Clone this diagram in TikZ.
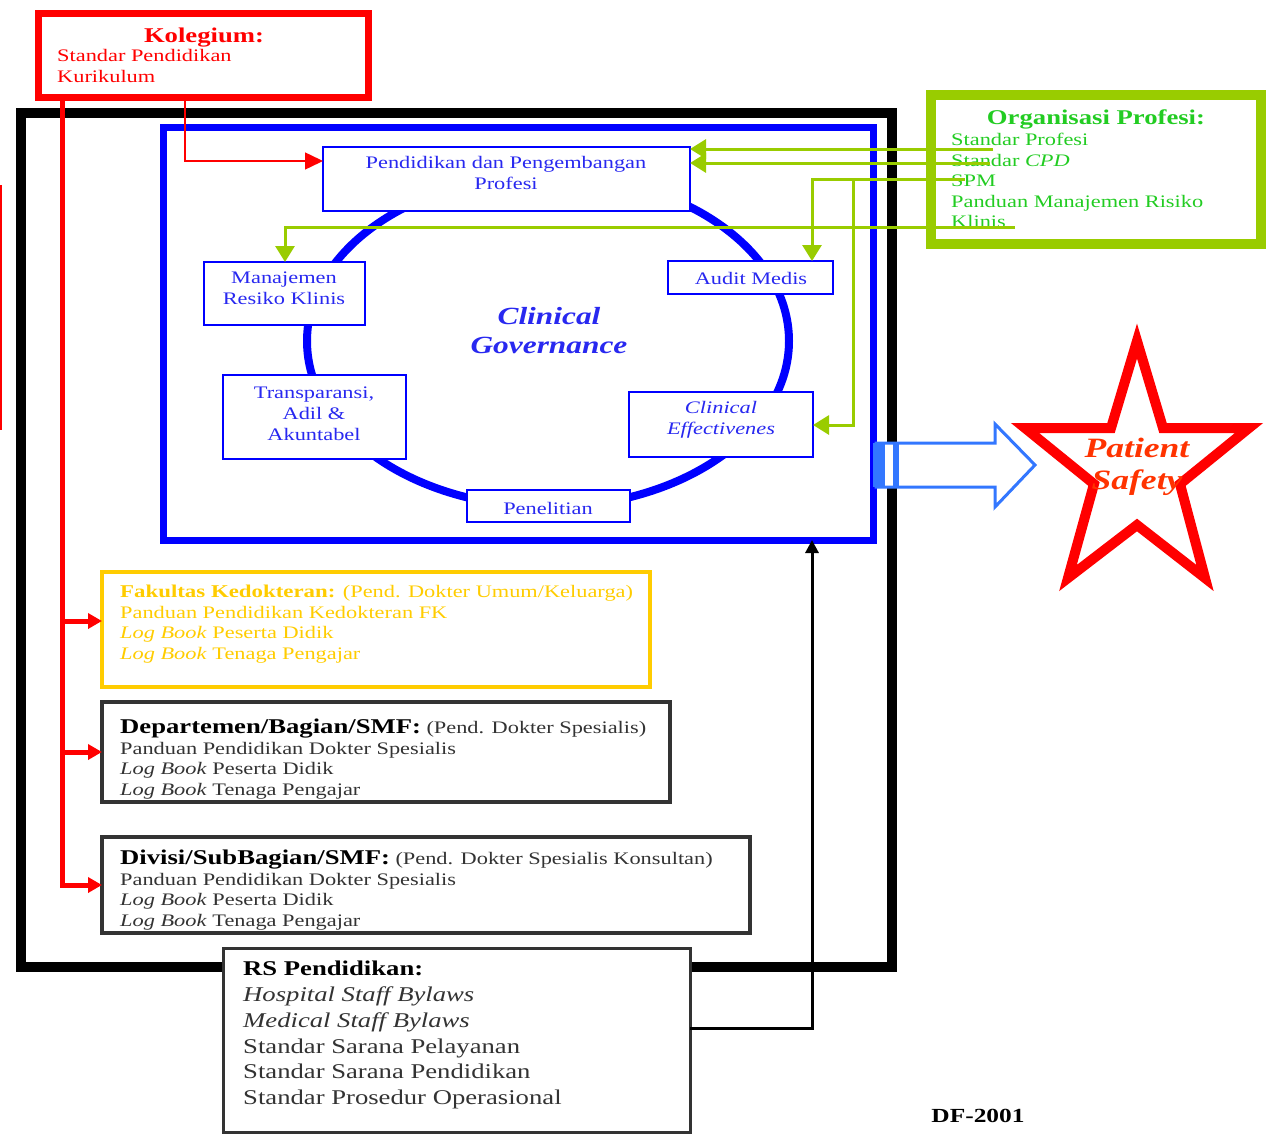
\documentclass[tikz,border=0pt]{standalone}
\usepackage{fontspec}
\setmainfont{Liberation Serif}[FakeStretch=1.27]
\usetikzlibrary{arrows.meta}
\newcommand{\pxfont}[2]{\fontsize{#1pt}{#2pt}\selectfont}

\definecolor{kred}{HTML}{FF0000}
\definecolor{cgblue}{HTML}{0000FF}
\definecolor{txtblue}{HTML}{2828F0}
\definecolor{lime}{HTML}{99CC00}
\definecolor{orgtext}{HTML}{22CC22}
\definecolor{gold}{HTML}{FFCC00}
\definecolor{arrowblue}{HTML}{3377FF}
\definecolor{psred}{HTML}{FF3300}
\definecolor{boxgray}{HTML}{333333}

\begin{document}
\begin{tikzpicture}[x=1pt,y=-1pt,
  rbox/.style 2 args={draw, minimum width=#1pt, minimum height=#2pt,
    anchor=north west, inner sep=0pt, outer sep=0pt},
  lbl/.style={inner sep=0pt, align=left, anchor=north west},
  ctr/.style={inner sep=0pt, align=center},
  body/.style={font=\pxfont{17.6}{21}},
  cgnode/.style={draw=cgblue, line width=2.5pt, fill=white},
  cgtext/.style={ctr, text=txtblue, font=\pxfont{17.6}{21}},
  redline/.style={draw=kred, line width=5pt},
  redtip/.style={-{Triangle[length=14pt,width=15pt]}},
  greenline/.style={draw=lime, line width=3pt},
  greentip/.style={-{Triangle[length=16pt,width=19pt]}},
  listbox/.style={draw=boxgray, fill=white}
]
\useasboundingbox (0,0) rectangle (1270,1135);

% outer frame of the teaching hospital system
\node[rbox={871}{854}, draw=black, line width=10pt] (frame) at (21,113) {};

% stray red edge on the far left
\draw[kred, line width=2pt] (1,185) -- (1,430);

% Kolegium
\node[rbox={330}{84}, draw=kred, line width=7pt] (kol) at (38,13) {};
\node[text=kred, font=\bfseries\pxfont{21}{25}, anchor=base, inner sep=0pt] (kolh) at (204,42) {Kolegium:};
\node[lbl, body, text=kred] (kolt) at (57,49) {Standar Pendidikan\\Kurikulum};

% Organisasi Profesi
\node[rbox={330}{149}, draw=lime, line width=10pt] (org) at (931,95) {};
\node[text=orgtext, font=\bfseries\pxfont{21}{25}, anchor=base, inner sep=0pt] (orgh) at (1096,124) {Organisasi Profesi:};
\node[lbl, font=\pxfont{17.6}{20.5}, text=orgtext] (orgt) at (951,133)
  {Standar Profesi\\Standar \textit{CPD}\\SPM\\Panduan Manajemen Risiko\\Klinis};

% Clinical governance block
\node[rbox={710}{413}, draw=cgblue, line width=7pt] (cg) at (163,127) {};
\draw[cgblue, line width=8pt] (548,341) ellipse [x radius=241pt, y radius=166pt];
\node[ctr, text=txtblue, font=\bfseries\itshape\pxfont{24.7}{29}] (cgt) at (549,331) {Clinical\\Governance};

\node[rbox={367}{64}, cgnode] (pend) at (323,147) {};
\node[cgtext] (pendt) at (506,173) {Pendidikan dan Pengembangan\\Profesi};
\node[rbox={161}{63}, cgnode] (mrk) at (204,262) {};
\node[cgtext] (mrkt) at (284,288) {Manajemen\\Resiko Klinis};
\node[rbox={165}{33}, cgnode] (audit) at (668,261) {};
\node[cgtext] (auditt) at (751,278) {Audit Medis};
\node[rbox={183}{84}, cgnode] (trans) at (223,375) {};
\node[cgtext] (transt) at (314,414) {Transparansi,\\Adil \&\\Akuntabel};
\node[rbox={184}{65}, cgnode] (ceff) at (629,392) {};
\node[cgtext, font=\itshape\pxfont{17.6}{21}] (cefft) at (721,420) {Clinical\\Effectivenes};
\node[rbox={163}{32}, cgnode] (pen) at (467,490) {};
\node[cgtext] (pent) at (548,508) {Penelitian};

% Fakultas Kedokteran
\node[rbox={548}{115}, draw=gold, line width=3.5pt] (fk) at (102,572) {};
\node[lbl, font=\pxfont{17.6}{20.5}, text=gold] (fkt) at (120,585)
  {{\bfseries\pxfont{18}{20.5}Fakultas Kedokteran:} (Pend. Dokter Umum/Keluarga)\\
   Panduan Pendidikan Kedokteran FK\\
   \textit{Log Book} Peserta Didik\\
   \textit{Log Book} Tenaga Pengajar};

% Departemen
\node[rbox={568}{100}, listbox, line width=4pt] (dep) at (102,702) {};
\node[lbl, font=\pxfont{17.6}{20.5}, text=boxgray] (dept) at (120,719)
  {{\color{black}\bfseries\pxfont{21}{20.5}Departemen/Bagian/SMF:} (Pend. Dokter Spesialis)\\
   Panduan Pendidikan Dokter Spesialis\\
   \textit{Log Book} Peserta Didik\\
   \textit{Log Book} Tenaga Pengajar};

% Divisi
\node[rbox={648}{96}, listbox, line width=3.5pt] (div) at (102,837) {};
\node[lbl, font=\pxfont{17.6}{20.5}, text=boxgray] (divt) at (120,850)
  {{\color{black}\bfseries\pxfont{21}{20.5}Divisi/SubBagian/SMF:} (Pend. Dokter Spesialis Konsultan)\\
   Panduan Pendidikan Dokter Spesialis\\
   \textit{Log Book} Peserta Didik\\
   \textit{Log Book} Tenaga Pengajar};

% Kolegium connectors
\coordinate (sp0) at (62,97);
\coordinate (sp1) at (62,621);
\coordinate (kp0) at (185,97);
\coordinate (kp) at (185,161);
\draw[redline, redtip] (sp0) |- (div.west);
\draw[redline, redtip] (sp0 |- dep.west) -- (dep.west);
\draw[redline, redtip] (sp1) -- (sp1 -| fk.west);
\draw[kred, line width=1.5pt, -{Triangle[length=18pt,width=17pt]}] (kp0) -- (kp) -- (kp -| pend.west);

% Organisasi Profesi connectors
\coordinate (g1) at (993,149);
\coordinate (g2) at (990,163);
\coordinate (g3) at (965,179);
\coordinate (g4) at (1015,227);
\coordinate (ga) at (812,179);
\coordinate (gb) at (853,179);
\coordinate (gc) at (853,425);
\coordinate (gm) at (285,227);
\draw[greenline, greentip] (g1) -- (g1 -| pend.east);
\draw[greenline, greentip] (g2) -- (g2 -| pend.east);
\draw[greenline, greentip] (g3) -- (ga) -- (ga |- audit.north);
\draw[greenline, greentip] (gb) -- (gc) -- (gc -| ceff.east);
\draw[greenline, greentip] (g4) -- (gm) -- (gm |- mrk.north);

% RS Pendidikan
\node[rbox={467}{184}, listbox, line width=3pt] (rs) at (223,948) {};
\node[lbl, font=\pxfont{21}{25.8}, text=boxgray] (rst) at (243,961)
  {{\color{black}\bfseries RS Pendidikan:}\\
   \textit{Hospital Staff Bylaws}\\
   \textit{Medical Staff Bylaws}\\
   Standar Sarana Pelayanan\\
   Standar Sarana Pendidikan\\
   Standar Prosedur Operasional};
\coordinate (rb) at (812,1028);
\draw[black, line width=3pt, -{Triangle[length=13pt,width=13pt]}] (rb -| rs.east) -- (rb) -- (rb |- cg.south);

% block arrow towards patient safety
\draw[arrowblue, line width=3pt, fill=white, line join=miter]
  (876,443) -- (995,443) -- (995,424) -- (1035,465) -- (995,507) -- (995,487) -- (876,487) -- cycle;
\fill[arrowblue] (873,443) rectangle (885,487);
\fill[arrowblue] (893,443) rectangle (899,487);

% Patient safety star
\draw[kred, line width=10pt, line join=miter, miter limit=10]
  (1137,341) -- (1163,428) -- (1249,428) -- (1180,484) -- (1205,578)
  -- (1137,525) -- (1068,578) -- (1094,484) -- (1025,428) -- (1111,428) -- cycle;
\node[ctr, text=psred, font=\bfseries\itshape\pxfont{28}{32}] (ps) at (1137,467) {Patient\\Safety};

\node[font=\bfseries\pxfont{20}{24}, inner sep=0pt] (df) at (978,1116) {DF-2001};
\end{tikzpicture}
\end{document}
